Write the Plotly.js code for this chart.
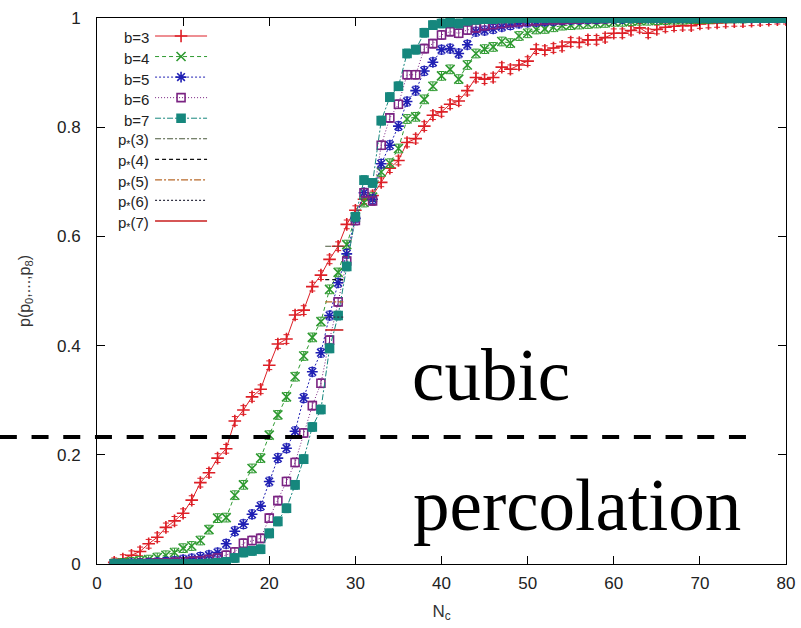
<!DOCTYPE html>
<html>
<head>
<meta charset="utf-8">
<script src="https://cdn.plot.ly/plotly-3.0.1.min.js"></script>
<style>html,body{margin:0;padding:0;background:#fff;}#chart{width:801px;height:628px;}</style>
</head>
<body>
<div id="chart"></div>
<script>
// Number of clusters N_c
const Nc = [2,3,4,5,6,7,8,9,10,11,12,13,14,15,16,17,18,19,20,21,22,23,24,25,26,27,28,29,30,31,32,33,34,35,36,37,38,39,40,41,42,43,44,45,46,47,48,49,50,51,52,53,54,55,56,57,58,59,60,61,62,63,64,65,66,67,68,69,70,71,72,73,74,75,76,77,78,79,80];

const pB3 = [0.003,0.009,0.016,0.023,0.037,0.049,0.067,0.079,0.093,0.117,
 0.149,0.167,0.194,0.211,0.262,0.282,0.306,0.320,0.364,0.403,
 0.412,0.456,0.465,0.508,0.529,0.558,0.582,0.622,0.648,0.668,
 0.675,0.699,0.725,0.739,0.772,0.779,0.802,0.822,0.828,0.842,
 0.848,0.867,0.891,0.888,0.891,0.910,0.906,0.914,0.921,0.943,
 0.941,0.945,0.948,0.956,0.955,0.960,0.960,0.964,0.972,0.972,
 0.977,0.982,0.972,0.979,0.983,0.985,0.986,0.986,0.989,0.990,
 0.991,0.992,0.993,0.993,0.994,0.995,0.996,0.997,0.997];

const pB4 = [0.001,0.002,0.004,0.006,0.008,0.012,0.016,0.021,0.029,0.033,
 0.043,0.063,0.084,0.085,0.126,0.145,0.175,0.194,0.236,0.273,
 0.306,0.343,0.381,0.415,0.444,0.503,0.534,0.585,0.635,0.662,
 0.672,0.718,0.734,0.761,0.815,0.819,0.851,0.875,0.894,0.906,
 0.888,0.914,0.935,0.943,0.947,0.957,0.954,0.967,0.972,0.979,
 0.980,0.983,0.986,0.987,0.988,0.989,0.990,0.991,0.993,0.993,
 0.994,0.995,0.995,0.996,0.996,0.997,0.997,0.998,0.998,0.998,
 0.999,0.999,0.999,0.999,1.000,1.000,1.000,1.000,1.000];

const pB5 = [0.000,0.000,0.001,0.001,0.002,0.003,0.004,0.005,0.008,0.010,
 0.013,0.016,0.021,0.037,0.060,0.073,0.091,0.106,0.151,0.194,
 0.212,0.243,0.304,0.352,0.387,0.455,0.515,0.568,0.633,0.680,
 0.668,0.733,0.767,0.802,0.847,0.867,0.903,0.919,0.942,0.944,
 0.935,0.951,0.975,0.977,0.980,0.984,0.987,0.990,0.992,0.993,
 0.994,0.995,0.996,0.997,0.997,0.998,0.998,0.999,0.999,0.999,
 1.000,1.000,1.000,1.000,1.000,1.000,1.000,1.000,1.000,1.000,
 1.000,1.000,1.000,1.000,1.000,1.000,1.000,1.000,1.000];

const pB6 = [0.000,0.000,0.000,0.001,0.001,0.002,0.002,0.003,0.004,0.005,
 0.006,0.008,0.011,0.016,0.022,0.038,0.043,0.047,0.084,0.116,
 0.151,0.186,0.240,0.290,0.331,0.410,0.480,0.555,0.629,0.680,
 0.665,0.767,0.817,0.842,0.896,0.896,0.944,0.953,0.969,0.975,
 0.972,0.978,0.982,0.986,0.988,0.990,0.992,0.993,0.994,0.995,
 0.996,0.997,0.997,0.998,0.998,0.999,0.999,0.999,1.000,1.000,
 1.000,1.000,1.000,1.000,1.000,1.000,1.000,1.000,1.000,1.000,
 1.000,1.000,1.000,1.000,1.000,1.000,1.000,1.000,1.000];

const pB7 = [0.000,0.000,0.000,0.000,0.000,0.000,0.000,0.000,0.000,0.000,
 0.000,0.001,0.002,0.004,0.011,0.021,0.024,0.027,0.056,0.078,
 0.102,0.145,0.192,0.251,0.283,0.395,0.455,0.545,0.636,0.703,
 0.698,0.812,0.855,0.875,0.935,0.942,0.973,0.987,0.990,0.992,
 0.990,0.995,0.997,0.998,0.998,0.999,0.999,1.000,1.000,1.000,
 1.000,1.000,1.000,1.000,1.000,1.000,1.000,1.000,1.000,1.000,
 1.000,1.000,1.000,1.000,1.000,1.000,1.000,1.000,1.000,1.000,
 1.000,1.000,1.000,1.000,1.000,1.000,1.000,1.000,1.000];

const seriesLabels = ['b=3','b=4','b=5','b=6','b=7'];
const pStarLabels = ['p<sub>*</sub>(3)','p<sub>*</sub>(4)','p<sub>*</sub>(5)','p<sub>*</sub>(6)','p<sub>*</sub>(7)'];
const pStarValues = [0.582, 0.521, 0.480, 0.452, 0.4286];
const pStarNc = [26.5, 28.6];
const cubicThreshold = 0.2326;
const xTicks = [0,10,20,30,40,50,60,70,80];
const yTicks = [0,0.2,0.4,0.6,0.8,1];

const colors = ['#dd1f26','#2e9a30','#2020b4','#7a2382','#16877d'];
const symbols = ['cross-thin-open','x-thin-open','asterisk-open','square-open','square'];
const msizes = [9,9,9,8,8];
const dashes = ['solid','4px,3px','2px,2px','1px,2px','6px,2px,2px,2px'];
const series = [pB3,pB4,pB5,pB6,pB7];

const traces = [];
series.forEach((ys, i) => {
  traces.push({
    x: Nc, y: ys, type: 'scatter', mode: 'lines+markers', name: '',
    line: {color: colors[i], width: 1, dash: dashes[i]},
    marker: {symbol: symbols[i], size: msizes[i], color: colors[i], line: {color: colors[i], width: 1.6}},
    error_y: {type: 'constant', value: 0.008, thickness: 1, width: 3, color: colors[i]},
    hoverinfo: 'x+y'
  });
});
const pColors = ['#4b5a3c','#111111','#b8692a','#333344','#c81e1e'];
const pDash = ['6px,2px,2px,2px','4px,3px','7px,2px,2px,2px','2px,2px','solid'];
pStarValues.forEach((v, i) => {
  traces.push({
    x: pStarNc, y: [v, v], type: 'scatter', mode: 'lines', name: '',
    line: {color: pColors[i], width: i === 4 ? 1.6 : 1.2, dash: pDash[i]},
    hoverinfo: 'y'
  });
});

const legendLabels = seriesLabels.concat(pStarLabels);
const annotations = legendLabels.map((t, i) => ({
  xref: 'paper', yref: 'paper', x: 0.0784, y: 0.9634 - i * 0.03773,
  xanchor: 'right', yanchor: 'middle', showarrow: false, text: t,
  font: {family: 'Liberation Sans, Arial, sans-serif', size: 15, color: '#222'}
}));
annotations.push({xref:'paper', yref:'y', x:0.454, y:0.346, xanchor:'left', yanchor:'middle', showarrow:false,
  text:'cubic', font:{family:'Liberation Serif, Times New Roman, serif', size:73, color:'#000'}});
annotations.push({xref:'paper', yref:'y', x:0.456, y:0.108, xanchor:'left', yanchor:'middle', showarrow:false,
  text:'percolation', font:{family:'Liberation Serif, Times New Roman, serif', size:73, color:'#000'}});

const axisFont = {family: 'Liberation Sans, Arial, sans-serif', size: 17, color: '#222'};
const layout = {
  width: 801, height: 628,
  margin: {l: 97, r: 15, t: 18, b: 64},
  paper_bgcolor: '#fff', plot_bgcolor: '#fff',
  showlegend: true,
  legend: {x: 0.077, y: 0.995, xanchor: 'left', yanchor: 'top', bgcolor: 'rgba(0,0,0,0)',
    font: {size: 13.5, family: 'Liberation Sans, Arial, sans-serif'}, itemwidth: 52, tracegroupgap: 0},
  xaxis: {range: [0, 80], tickvals: xTicks, ticks: 'inside', ticklen: 8, tickcolor: '#000',
    showline: true, linecolor: '#000', linewidth: 1, mirror: 'ticks', showgrid: false, zeroline: false,
    tickfont: axisFont, ticklabelstandoff: 4,
    title: {text: 'N<sub>c</sub>', font: {family: 'Liberation Sans, Arial, sans-serif', size: 17, color: '#333'}, standoff: 12}},
  yaxis: {range: [0, 1], tickvals: yTicks, ticks: 'inside', ticklen: 8, tickcolor: '#000',
    showline: true, linecolor: '#000', linewidth: 1, mirror: 'ticks', showgrid: false, zeroline: false,
    tickfont: axisFont, ticklabelstandoff: 12,
    title: {text: 'p(p<sub>0</sub>,...,p<sub>8</sub>)', font: {family: 'Liberation Sans, Arial, sans-serif', size: 16, color: '#333'}, standoff: 22}},
  shapes: [{type: 'line', xref: 'paper', yref: 'y', x0: -0.141, x1: 0.951, y0: cubicThreshold, y1: cubicThreshold,
    line: {color: '#000', width: 4, dash: '17px,14.7px'}}],
  annotations: annotations
};

Plotly.newPlot('chart', traces, layout, {displayModeBar: false, staticPlot: true});
</script>
</body>
</html>
